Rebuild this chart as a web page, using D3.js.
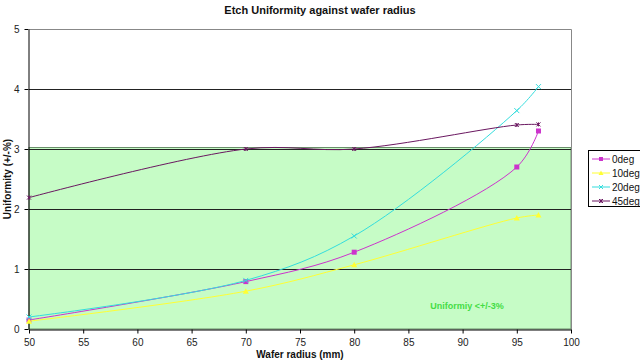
<!DOCTYPE html>
<html><head><meta charset="utf-8">
<script src="https://cdn.jsdelivr.net/npm/d3@7"></script>
<style>body{margin:0;background:#fff}svg{display:block;font-family:"Liberation Sans",Arial,sans-serif}</style>
</head><body><svg id="c" width="640" height="364"></svg>
<script>
const radius = [50, 70, 80, 95, 97];
const deg0 = [0.15, 0.79, 1.28, 2.70, 3.30];
const deg10 = [0.13, 0.63, 1.07, 1.85, 1.90];
const deg20 = [0.20, 0.81, 1.55, 3.64, 4.04];
const deg45 = [2.19, 3.00, 3.00, 3.40, 3.41];
const seriesNames = ["0deg", "10deg", "20deg", "45deg"];
const seriesColors = ["#cc33cc", "#ffff33", "#33dddd", "#6a1760"];
const seriesMarkers = ["square", "triangle", "x", "star"];
const xTicks = [50, 55, 60, 65, 70, 75, 80, 85, 90, 95, 100];
const yTicks = [0, 1, 2, 3, 4, 5];
const bandTop = 3;

const svg = d3.select("#c");
const m = {l: 29, r: 571, t: 29, b: 329};
const x = d3.scaleLinear().domain([50, 100]).range([m.l, m.r]);
const y = d3.scaleLinear().domain([0, 5]).range([m.b, m.t]);

// green band
svg.append("rect").attr("x", x(50)).attr("y", y(bandTop) - 1.5).attr("width", x(100) - x(50))
  .attr("height", y(0) - y(bandTop) + 1.5).attr("fill", "#c6fcc6").attr("stroke", "#6a8f6a").attr("stroke-width", 1);

// gridlines
svg.append("g").selectAll("line").data(yTicks.filter(d => d > 0 && d < 5)).join("line")
  .attr("x1", x(50)).attr("x2", x(100)).attr("y1", d => y(d) + 0.5).attr("y2", d => y(d) + 0.5)
  .attr("stroke", "#222").attr("stroke-width", 1);

// plot border top & right
svg.append("path").attr("d", `M${x(50)},${y(5)+0.5}H${x(100)+0.5}V${y(0)}`).attr("fill", "none").attr("stroke", "#888");

// axes
const xAxis = svg.append("g").attr("transform", `translate(0,${y(0)+0.5})`)
  .call(d3.axisBottom(x).tickValues(xTicks).tickSize(4).tickSizeOuter(0).tickPadding(5));
const yAxis = svg.append("g").attr("transform", `translate(${x(50)-0.5},0)`)
  .call(d3.axisLeft(y).tickValues(yTicks).tickFormat(d3.format("d")).tickSize(4).tickSizeOuter(0).tickPadding(5));
[xAxis, yAxis].forEach(g => {
  g.select(".domain").attr("stroke", "#000");
  g.selectAll(".tick line").attr("stroke", "#000");
  g.selectAll("text").attr("font-size", 10).attr("fill", "#222").attr("font-family", "Liberation Sans, Arial, sans-serif");
});

// series
const data = [deg0, deg10, deg20, deg45];
const line = d3.line().x(d => x(d[0])).y(d => y(d[1])).curve(d3.curveCatmullRom.alpha(0.5));
function marker(g, type, color, cx, cy, s) {
  if (type === "square") g.append("rect").attr("x", cx - s).attr("y", cy - s).attr("width", 2*s).attr("height", 2*s).attr("fill", color);
  else if (type === "triangle") g.append("path").attr("d", `M${cx},${cy-s-0.5}L${cx+s+0.5},${cy+s}L${cx-s-0.5},${cy+s}Z`).attr("fill", color);
  else if (type === "x") g.append("path").attr("d", `M${cx-s},${cy-s}L${cx+s},${cy+s}M${cx+s},${cy-s}L${cx-s},${cy+s}`).attr("stroke", color).attr("stroke-width", 1);
  else g.append("path").attr("d", `M${cx-s},${cy-s}L${cx+s},${cy+s}M${cx+s},${cy-s}L${cx-s},${cy+s}M${cx},${cy-s}V${cy+s}`).attr("stroke", color).attr("stroke-width", 1);
}
data.forEach((vals, i) => {
  const pts = radius.map((r, j) => [r, vals[j]]);
  const g = svg.append("g");
  g.append("path").attr("d", line(pts)).attr("fill", "none").attr("stroke", seriesColors[i]).attr("stroke-width", 1);
  pts.forEach(p => marker(g, seriesMarkers[i], seriesColors[i], x(p[0]), y(p[1]), i === 3 ? 2 : 2.5));
});

// band label
svg.append("text").attr("x", 467).attr("y", 309).attr("text-anchor", "middle").attr("font-size", 9)
  .attr("font-weight", "bold").attr("fill", "#44dd44").text("Uniformiy <+/-3%");

// title & axis labels
svg.append("text").attr("x", 320).attr("y", 14).attr("text-anchor", "middle").attr("font-size", 11)
  .attr("font-weight", "bold").attr("fill", "#111").text("Etch Uniformity against wafer radius");
svg.append("text").attr("x", 300).attr("y", 358).attr("text-anchor", "middle").attr("font-size", 10)
  .attr("font-weight", "bold").attr("fill", "#111").text("Wafer radius (mm)");
svg.append("text").attr("transform", `translate(11,${(y(0)+y(5))/2}) rotate(-90)`).attr("text-anchor", "middle")
  .attr("font-size", 10).attr("font-weight", "bold").attr("fill", "#111").text("Uniformity (+/-%)");

// legend
const lg = svg.append("g");
lg.append("rect").attr("x", 588.5).attr("y", 150.5).attr("width", 60).attr("height", 56).attr("fill", "#fff").attr("stroke", "#000");
seriesNames.forEach((n, i) => {
  const ly = 159 + i * 14;
  lg.append("line").attr("x1", 592).attr("x2", 610).attr("y1", ly).attr("y2", ly).attr("stroke", seriesColors[i]);
  marker(lg, seriesMarkers[i], seriesColors[i], 601, ly, 2);
  lg.append("text").attr("x", 612).attr("y", ly + 4).attr("font-size", 10).attr("fill", "#111").text(n);
});
</script></body></html>
